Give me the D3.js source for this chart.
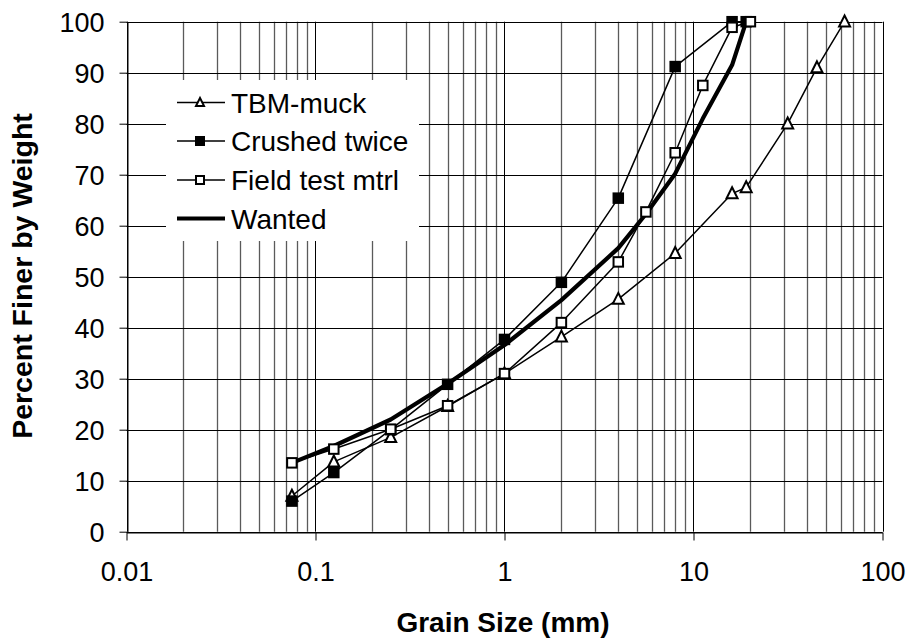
<!DOCTYPE html>
<html>
<head>
<meta charset="utf-8">
<script src="https://cdn.jsdelivr.net/npm/d3@7"></script>
<style>
  html, body { margin: 0; padding: 0; background: #fff; }
  svg text { font-family: "Liberation Sans", Arial, sans-serif; fill: #000; }
</style>
</head>
<body>
<div id="chart"></div>
<script>
// Data (grain size in mm, percent finer)
const tbmSize    = [0.075, 0.125, 0.25, 0.5, 1, 2, 4, 8, 16, 19, 31.5, 45, 63];
const tbmPct     = [7, 13.7, 18.5, 24.6, 31, 38.2, 45.6, 54.6, 66.3, 67.5, 80, 91, 100];

const crushedSize = [0.075, 0.125, 0.25, 0.5, 1, 2, 4, 8, 16, 19];
const crushedPct  = [6, 11.6, 20, 28.9, 37.7, 48.9, 65.4, 91.2, 100, 100];

const fieldSize = [0.075, 0.125, 0.25, 0.5, 1, 2, 4, 5.6, 8, 11.2, 16, 20];
const fieldPct  = [13.5, 16.2, 20.1, 24.7, 31, 41, 52.9, 62.7, 74.3, 87.5, 98.9, 100];

const wantedSize = [0.075, 0.125, 0.25, 0.5, 1, 2, 4, 5.6, 8, 11.2, 16, 19];
const wantedPct  = [13.5, 16.8, 22, 29, 36.6, 45.4, 55.6, 62.3, 70.2, 81, 91.5, 100];

const seriesNames = ["TBM-muck", "Crushed twice", "Field test mtrl", "Wanted"];
const yTicks = [0, 10, 20, 30, 40, 50, 60, 70, 80, 90, 100];
const xTicks = [0.01, 0.1, 1, 10, 100];
const xTickLabels = ["0.01", "0.1", "1", "10", "100"];

const W = 911, H = 639;
const svg = d3.select("#chart").append("svg")
    .attr("width", W)
    .attr("height", H);

const x = d3.scaleLog().domain([0.01, 100]).range([126.5, 882.5]);
const y = d3.scaleLinear().domain([0, 100]).range([531.7, 21.7]);

// Grid
const minor = [];
[0.01, 0.1, 1, 10].forEach(dec => {
    for (let k = 2; k <= 9; k++) minor.push(k * dec);
});

const gGrid = svg.append("g");
gGrid.selectAll("line.minor")
    .data(minor)
    .join("line")
    .attr("class", "minor")
    .attr("x1", d => Math.round(x(d)) + 0.5)
    .attr("x2", d => Math.round(x(d)) + 0.5)
    .attr("y1", y(0))
    .attr("y2", y(100))
    .attr("stroke", "#5a5a5a")
    .attr("stroke-width", 1.3);

gGrid.selectAll("line.hmaj")
    .data(yTicks)
    .join("line")
    .attr("class", "hmaj")
    .attr("x1", x(0.01))
    .attr("x2", x(100))
    .attr("y1", d => Math.round(y(d)) + 0.5)
    .attr("y2", d => Math.round(y(d)) + 0.5)
    .attr("stroke", "#000")
    .attr("stroke-width", 1);

gGrid.selectAll("line.vmaj")
    .data(xTicks)
    .join("line")
    .attr("class", "vmaj")
    .attr("x1", d => Math.round(x(d)) + 0.5)
    .attr("x2", d => Math.round(x(d)) + 0.5)
    .attr("y1", y(0))
    .attr("y2", y(100))
    .attr("stroke", "#000")
    .attr("stroke-width", 1);

// Axes
const yAxis = svg.append("g")
    .attr("transform", `translate(${Math.round(x(0.01)) + 0.5},0)`)
    .call(d3.axisLeft(y).tickValues(yTicks).tickSize(8).tickSizeOuter(0).tickPadding(15));
yAxis.select(".domain").attr("stroke", "#000");
yAxis.selectAll("text")
    .attr("font-size", 27)
    .attr("dy", "0.36em")
    .attr("font-family", "Liberation Sans, Arial, sans-serif");

const xAxis = svg.append("g")
    .attr("transform", `translate(0,${Math.round(y(0)) + 0.5})`)
    .call(d3.axisBottom(x).tickValues(xTicks).tickFormat((d, i) => xTickLabels[i]).tickSize(8).tickSizeOuter(0));
xAxis.select(".domain").attr("stroke", "#000");
xAxis.selectAll("text")
    .attr("font-size", 27)
    .attr("dy", null)
    .attr("y", 48)
    .attr("font-family", "Liberation Sans, Arial, sans-serif");

// Axis titles
svg.append("text")
    .attr("x", 503)
    .attr("y", 632)
    .attr("text-anchor", "middle")
    .attr("font-size", 28)
    .attr("font-weight", "bold")
    .text("Grain Size (mm)");

svg.append("text")
    .attr("transform", "translate(32,276) rotate(-90)")
    .attr("text-anchor", "middle")
    .attr("font-size", 28.5)
    .attr("font-weight", "bold")
    .text("Percent Finer by Weight");

// Legend background (covers the grid)
const legend = svg.append("g");
legend.append("rect")
    .attr("x", 166).attr("y", 80)
    .attr("width", 253).attr("height", 161)
    .attr("fill", "#fff");

// Series
const series = [
    { name: seriesNames[0], pts: d3.zip(tbmSize, tbmPct), marker: "tri", width: 1.5 },
    { name: seriesNames[1], pts: d3.zip(crushedSize, crushedPct), marker: "fsq", width: 1.5 },
    { name: seriesNames[2], pts: d3.zip(fieldSize, fieldPct), marker: "osq", width: 1.5 },
    { name: seriesNames[3], pts: d3.zip(wantedSize, wantedPct), marker: null, width: 4.2 }
];

const line = d3.line().x(d => x(d[0])).y(d => y(d[1]));

const gLines = svg.append("g");
series.forEach(s => {
    gLines.append("path")
        .attr("d", line(s.pts))
        .attr("fill", "none")
        .attr("stroke", "#000")
        .attr("stroke-width", s.width)
        .attr("stroke-linejoin", "round");
});

function drawMarker(g, type, cx, cy, size) {
    if (type === "tri") {
        const h = size * 0.95;
        g.append("path")
            .attr("d", `M${cx},${cy - h * 0.6}L${cx + size / 2},${cy + h * 0.45}L${cx - size / 2},${cy + h * 0.45}Z`)
            .attr("fill", "#fff")
            .attr("stroke", "#000")
            .attr("stroke-width", 2)
            .attr("stroke-linejoin", "miter");
    } else if (type === "fsq" || type === "osq") {
        g.append("rect")
            .attr("x", cx - size / 2).attr("y", cy - size / 2)
            .attr("width", size).attr("height", size)
            .attr("fill", type === "fsq" ? "#000" : "#fff")
            .attr("stroke", "#000")
            .attr("stroke-width", 2);
    }
}

const gMarks = svg.append("g");
series.forEach(s => {
    if (!s.marker) return;
    s.pts.forEach(p => drawMarker(gMarks, s.marker, x(p[0]), y(p[1]), s.marker === "tri" ? 11 : 9.5));
});

// Legend entries
const legendY = [102.5, 141, 180, 218.5];
series.forEach((s, i) => {
    const ly = legendY[i];
    legend.append("line")
        .attr("x1", 177).attr("x2", 225)
        .attr("y1", ly).attr("y2", ly)
        .attr("stroke", "#000")
        .attr("stroke-width", s.marker ? 1.5 : 4);
    if (s.marker) drawMarker(legend, s.marker, 200, ly, 8);
    legend.append("text")
        .attr("x", 231)
        .attr("y", ly)
        .attr("dy", "0.36em")
        .attr("font-size", 28)
        .text(s.name);
});
</script>
</body>
</html>
